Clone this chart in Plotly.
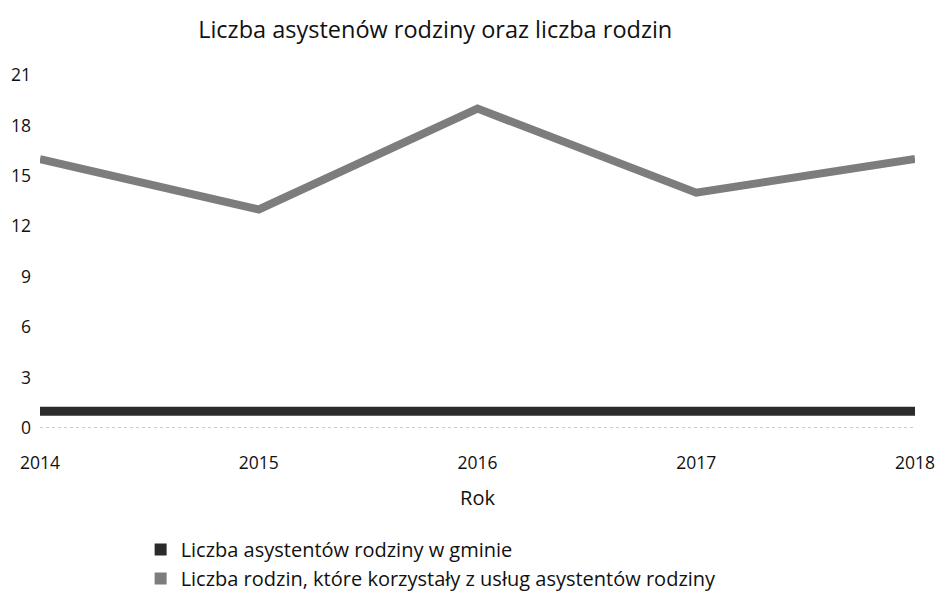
import plotly.graph_objects as go

years = [2014, 2015, 2016, 2017, 2018]
asystenci = [1, 1, 1, 1, 1]
rodziny = [16, 13, 19, 14, 16]

name_asyst = "Liczba asystentów rodziny w gminie"
name_rodz = "Liczba rodzin, które korzystały z usług asystentów rodziny"
col_asyst = "#2b2b2b"
col_rodz = "#7d7d7d"

font_family = "'Open Sans', Lato, sans-serif"

fig = go.Figure()

# data lines
fig.add_trace(go.Scatter(x=years, y=asystenci, mode="lines",
                         line=dict(color=col_asyst, width=9),
                         legendgroup="a", showlegend=False))
fig.add_trace(go.Scatter(x=years, y=rodziny, mode="lines",
                         line=dict(color=col_rodz, width=8),
                         legendgroup="r", showlegend=False))

# legend entries with small square swatches
fig.add_trace(go.Scatter(x=[None], y=[None], mode="markers", name=name_asyst,
                         marker=dict(symbol="square", size=10, color=col_asyst),
                         legendgroup="a"))
fig.add_trace(go.Scatter(x=[None], y=[None], mode="markers", name=name_rodz,
                         marker=dict(symbol="square", size=10, color=col_rodz),
                         legendgroup="r"))

fig.update_layout(
    width=940, height=592,
    paper_bgcolor="white", plot_bgcolor="white",
    margin=dict(l=40, r=25, t=75, b=164, autoexpand=False),
    font=dict(family=font_family, size=17.5, color="#111"),
    title=dict(text="Liczba asystenów rodziny oraz liczba rodzin",
               x=0.463, xanchor="center", y=0.95, yanchor="middle",
               font=dict(size=23.5, color="#111")),
    xaxis=dict(range=[2014, 2018], tickvals=years, ticktext=[str(y) for y in years],
               showgrid=False, zeroline=False, showline=False, ticks="",
               ticklabelstandoff=22,
               title=dict(text="Rok", standoff=18, font=dict(size=20))),
    yaxis=dict(range=[0, 21], tickvals=[0, 3, 6, 9, 12, 15, 18, 21],
               showgrid=False, zeroline=False, showline=False, ticks="",
               ticklabelstandoff=8),
    legend=dict(x=0.115, y=-0.289, xanchor="left", yanchor="top",
                font=dict(size=20), tracegroupgap=0, itemsizing="constant",
                itemwidth=30),
    shapes=[dict(type="line", xref="paper", yref="y", x0=0, x1=1, y0=0, y1=0,
                 line=dict(color="#999", width=1, dash="dot"), layer="below")],
)

fig.write_html("out.html")
